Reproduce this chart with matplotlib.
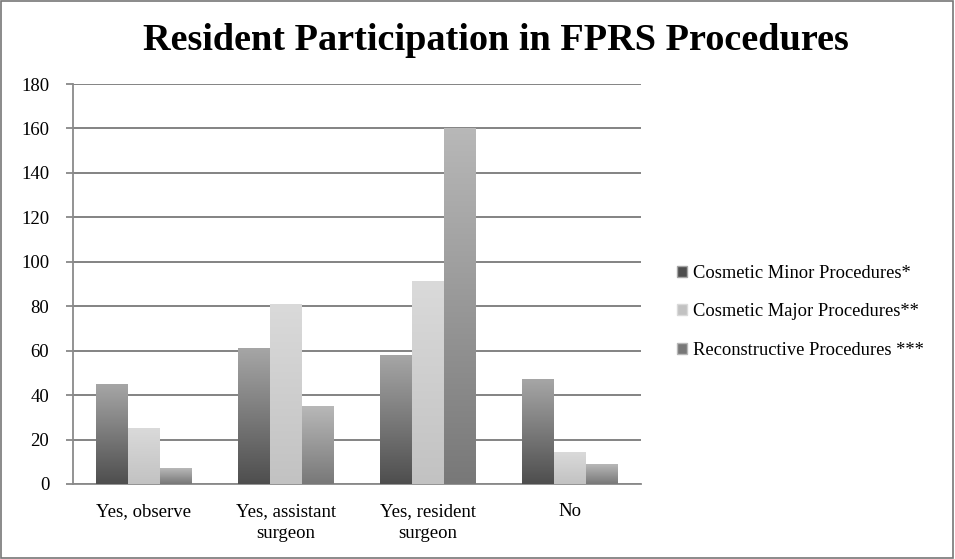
import numpy as np
import matplotlib
matplotlib.use('Agg')
import matplotlib.pyplot as plt
from matplotlib.colors import LinearSegmentedColormap
from matplotlib.patches import Rectangle

categories = ['Yes, observe', 'Yes, assistant\nsurgeon', 'Yes, resident\nsurgeon', 'No']
series_names = ['Cosmetic Minor Procedures*', 'Cosmetic Major Procedures**', 'Reconstructive Procedures ***']
minor = [45, 61, 58, 47]
major = [25, 81, 91, 14]
recon = [7, 35, 160, 9]

# bottom colour, top colour for each series
shades = [('#4e4e4e', '#a6a6a6'), ('#c2c2c2', '#dadada'), ('#787878', '#b8b8b8')]

plt.rcParams['font.family'] = ['Liberation Serif', 'DejaVu Serif']

fig = plt.figure(figsize=[9.55, 5.59], dpi=100)
ax = fig.add_axes([0.0764, 0.1342, 0.595, 0.7155])

x = np.arange(len(categories))
w = 0.225
grad = np.linspace(0, 1, 256).reshape(-1, 1)
handles = []
for i, vals in enumerate([minor, major, recon]):
    cmap = LinearSegmentedColormap.from_list('s%d' % i, shades[i])
    bars = ax.bar(x + (i - 1) * w, vals, w, color='none', edgecolor='none', zorder=3)
    for b in bars:
        ax.imshow(grad, extent=[b.get_x(), b.get_x() + b.get_width(), 0, b.get_height()],
                  origin='lower', aspect='auto', cmap=cmap, zorder=3)
    handles.append(Rectangle((0, 0), 1, 1, facecolor=shades[i][0], edgecolor=shades[i][1]))

ax.set_xlim(-0.5, len(categories) - 0.5)
ax.set_ylim(0, 180)
ax.set_yticks(range(0, 181, 20))
ax.set_xticks(x)
ax.set_xticklabels(categories, fontsize=13.5, linespacing=1.35)
ax.tick_params(axis='y', labelsize=13.5, length=5, color='#888888', width=1.3, pad=12)
ax.tick_params(axis='x', length=0, pad=14)
ax.yaxis.grid(True, color='#7a7a7a', linewidth=1.3, zorder=0)
ax.set_axisbelow(True)
for s in ['top', 'right']:
    ax.spines[s].set_visible(False)
for s in ['left', 'bottom']:
    ax.spines[s].set_color('#8a8a8a')
    ax.spines[s].set_linewidth(1.3)

fig.text(0.519, 0.928, 'Resident Participation in FPRS Procedures', ha='center', va='center',
         fontsize=27.5, fontweight='bold')

fig.legend(handles, series_names, loc='center left', bbox_to_anchor=(0.691, 0.442),
           frameon=False, fontsize=13.3, handlelength=0.55, handleheight=0.55,
           handletextpad=0.35, labelspacing=1.15)

fig.patches.append(Rectangle((0.001, 0.002), 0.997, 0.996, transform=fig.transFigure,
                             fill=False, edgecolor='#777777', linewidth=1.2))

fig.savefig('out.png', dpi=100)
